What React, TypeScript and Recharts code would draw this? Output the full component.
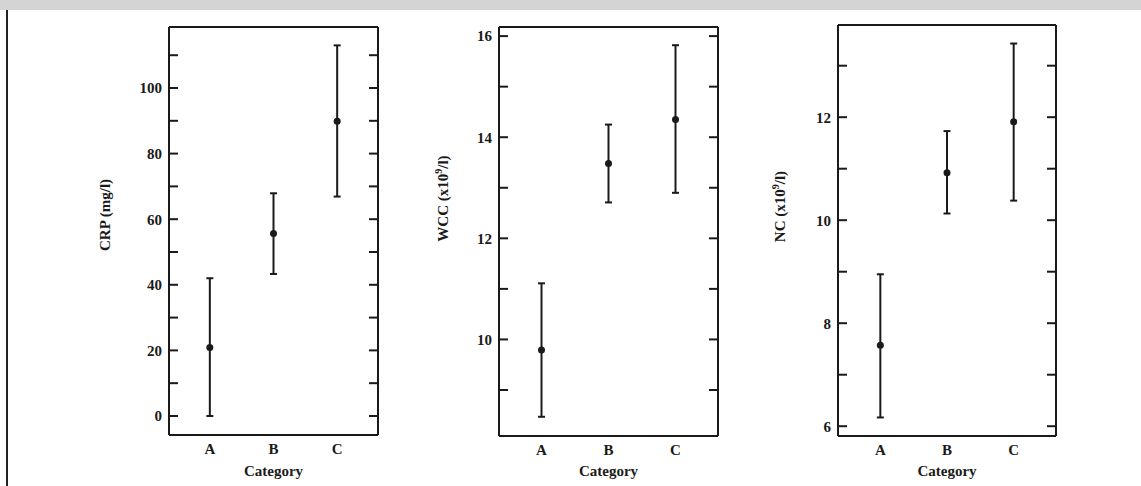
import React from 'react';
import { ScatterChart, Scatter, XAxis, YAxis, ErrorBar } from 'recharts';

const categories = ['A', 'B', 'C'];

const crpMean = [20.9, 55.6, 89.9];
const crpLow = [0, 43.3, 66.9];
const crpHigh = [42, 67.9, 113];
const crpTicks = [0, 10, 20, 30, 40, 50, 60, 70, 80, 90, 100, 110];

const wccMean = [9.79, 13.48, 14.35];
const wccLow = [8.47, 12.71, 12.9];
const wccHigh = [11.11, 14.25, 15.82];
const wccTicks = [9, 10, 11, 12, 13, 14, 15, 16];

const ncMean = [7.57, 10.92, 11.91];
const ncLow = [6.17, 10.13, 10.38];
const ncHigh = [8.95, 11.73, 13.43];
const ncTicks = [6, 7, 8, 9, 10, 11, 12, 13];

const INK = '#1a1a1a';
const FONT = '"Liberation Serif", "Times New Roman", serif';
const textStyle = { fontFamily: FONT, fontSize: 15, fontWeight: 700, fill: INK };

function buildRows(mean: number[], low: number[], high: number[]) {
  return categories.map((cat, i) => ({
    cat,
    mean: mean[i],
    err: [mean[i] - low[i], high[i] - mean[i]],
  }));
}

// rotated axis title, optional superscript in the middle
function YTitle(props: any) {
  const { viewBox, head, sup, tail, dx, dy } = props;
  const x = viewBox.x + dx;
  const y = viewBox.y + viewBox.height / 2 + dy;
  return (
    <text
      x={x}
      y={y}
      transform={`rotate(-90, ${x}, ${y})`}
      textAnchor="middle"
      dominantBaseline="central"
      style={textStyle}
    >
      {head}
      {sup && <tspan dy={-5} fontSize={10}>{sup}</tspan>}
      {sup ? <tspan dy={5}>{tail}</tspan> : tail}
    </text>
  );
}

type PanelProps = {
  left: number;
  width: number;
  boxLeft: number;
  boxRight: number;
  boxTop: number;
  boxBottom: number;
  domain: [number, number];
  ticks: number[];
  labelStep: number;
  rows: any[];
  title: React.ReactElement;
};

function Panel(p: PanelProps) {
  const height = 486;
  const fmt = (v: number) => (Math.abs(v % p.labelStep) < 1e-6 ? String(v) : '');
  return (
    <div style={{ position: 'absolute', left: p.left, top: 0 }}>
      <ScatterChart
        width={p.width}
        height={height}
        data={p.rows}
        margin={{ top: p.boxTop - 1, left: 0, right: p.left + p.width - p.boxRight - 1, bottom: 0 }}
      >
        <XAxis
          dataKey="cat"
          type="category"
          allowDuplicatedCategory={false}
          height={height - p.boxBottom}
          padding={{ left: 9, right: 9 }}
          axisLine={{ stroke: INK, strokeWidth: 2 }}
          tickLine={false}
          tickSize={0}
          tickMargin={8}
          tick={textStyle}
          label={{ value: 'Category', position: 'insideBottom', offset: 10, ...textStyle }}
        />
        <XAxis
          xAxisId="top"
          dataKey="cat"
          type="category"
          allowDuplicatedCategory={false}
          orientation="top"
          height={1}
          axisLine={{ stroke: INK, strokeWidth: 2 }}
          tickLine={false}
          tick={false}
        />
        <YAxis
          type="number"
          domain={p.domain}
          ticks={p.ticks}
          allowDataOverflow
          width={p.boxLeft - p.left}
          axisLine={{ stroke: INK, strokeWidth: 2 }}
          tickLine={{ stroke: INK, strokeWidth: 2 }}
          tickSize={-9}
          tickMargin={16}
          tickFormatter={fmt}
          tick={textStyle}
          label={p.title}
        />
        <YAxis
          yAxisId="right"
          orientation="right"
          type="number"
          domain={p.domain}
          ticks={p.ticks}
          allowDataOverflow
          width={1}
          axisLine={{ stroke: INK, strokeWidth: 2 }}
          tickLine={{ stroke: INK, strokeWidth: 2 }}
          tickSize={-9}
          tickFormatter={() => ''}
        />
        <Scatter
          dataKey="mean"
          isAnimationActive={false}
          shape={(s: any) => <circle cx={s.cx} cy={s.cy} r={3.5} fill={INK} />}
        >
          <ErrorBar
            dataKey="err"
            direction="y"
            width={3.5}
            strokeWidth={2}
            stroke={INK}
            isAnimationActive={false}
          />
        </Scatter>
      </ScatterChart>
    </div>
  );
}

export default function App() {
  return (
    <div style={{ position: 'absolute', left: 0, top: 0, width: 1141, height: 486, background: '#fff', overflow: 'hidden' }}>
      <div style={{ position: 'absolute', left: 0, top: 0, width: 1141, height: 10, background: '#d4d4d4' }} />
      <div style={{ position: 'absolute', left: 6, top: 10, width: 2, height: 476, background: '#222' }} />
      <Panel
        left={80}
        width={310}
        boxLeft={169}
        boxRight={378}
        boxTop={27}
        boxBottom={435}
        domain={[-5.8, 118.6]}
        ticks={crpTicks}
        labelStep={20}
        rows={buildRows(crpMean, crpLow, crpHigh)}
        title={<YTitle head="CRP (mg/l)" dx={25} dy={-16} />}
      />
      <Panel
        left={420}
        width={310}
        boxLeft={499}
        boxRight={718}
        boxTop={27}
        boxBottom={436}
        domain={[8.09, 16.18]}
        ticks={wccTicks}
        labelStep={2}
        rows={buildRows(wccMean, wccLow, wccHigh)}
        title={<YTitle head="WCC (x10" sup="9" tail="/l)" dx={23} dy={-33} />}
      />
      <Panel
        left={760}
        width={310}
        boxLeft={838}
        boxRight={1056}
        boxTop={25}
        boxBottom={436}
        domain={[5.81, 13.79]}
        ticks={ncTicks}
        labelStep={2}
        rows={buildRows(ncMean, ncLow, ncHigh)}
        title={<YTitle head="NC (x10" sup="9" tail="/l)" dx={20} dy={-24} />}
      />
    </div>
  );
}
